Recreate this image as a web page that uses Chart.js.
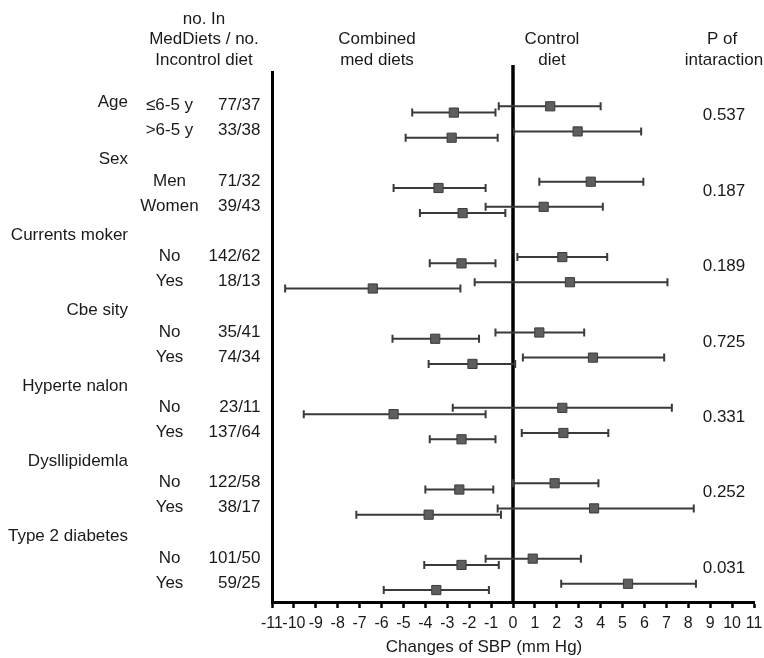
<!DOCTYPE html>
<html>
<head>
<meta charset="utf-8">
<script src="https://cdn.jsdelivr.net/npm/chart.js@4"></script>
<style>
  html, body { margin: 0; padding: 0; background: #fff; }
  #wrap { width: 764px; height: 658px; }
</style>
</head>
<body>
<div id="wrap"><canvas id="myChart" width="764" height="658"></canvas></div>
<script>
// subgroup data (changes of SBP, mm Hg)
const groups = ['Age', 'Sex', 'Currents moker', 'Cbe sity', 'Hyperte nalon', 'Dysllipidemla', 'Type 2 diabetes'];
const subgroups = ['≤6-5 y', '>6-5 y', 'Men', 'Women', 'No', 'Yes', 'No', 'Yes', 'No', 'Yes', 'No', 'Yes', 'No', 'Yes'];
const counts = ['77/37', '33/38', '71/32', '39/43', '142/62', '18/13', '35/41', '74/34', '23/11', '137/64', '122/58', '38/17', '101/50', '59/25'];
const pInteraction = ['0.537', '0.187', '0.189', '0.725', '0.331', '0.252', '0.031'];

const medMean = [-2.7, -2.8, -3.4, -2.3, -2.35, -6.4, -3.55, -1.85, -5.45, -2.35, -2.45, -3.85, -2.35, -3.5];
const medLow  = [-4.6, -4.9, -5.45, -4.25, -3.8, -10.4, -5.5, -3.85, -9.55, -3.8, -4.0, -7.15, -4.05, -5.9];
const medHigh = [-0.8, -0.7, -1.25, -0.35, -0.8, -2.4, -1.55, 0.1, -1.25, -0.8, -0.9, -0.55, -0.65, -1.1];

const ctrlMean = [1.7, 2.95, 3.55, 1.4, 2.25, 2.6, 1.2, 3.65, 2.25, 2.3, 1.9, 3.7, 0.9, 5.25];
const ctrlLow  = [-0.65, 0.05, 1.2, -1.25, 0.2, -1.75, -0.8, 0.45, -2.75, 0.4, 0.0, -0.7, -1.25, 2.2];
const ctrlHigh = [4.0, 5.85, 5.95, 4.1, 4.3, 7.05, 3.25, 6.9, 7.25, 4.35, 3.9, 8.25, 3.1, 8.35];

const xTicks = [-11, -10, -9, -8, -7, -6, -5, -4, -3, -2, -1, 0, 1, 2, 3, 4, 5, 6, 7, 8, 9, 10, 11];
const xTickLabels = ['-11', '-10', '-9', '-8', '-7', '-6', '-5', '-4', '-3', '-2', '-1', '0', '1', '2', '3', '4', '5', '6', '7', '8', '9', '10', '11'];

// every group takes 3 slots: header + 2 subgroups
function rowOf(i) {
  return Math.floor(i / 2) * 3 + (i % 2);
}

const FONT = '"Liberation Sans", Arial, Helvetica, sans-serif';
const TXT = '#1a1a1a';

// whiskers with end caps, drawn under the squares
const errorBars = {
  id: 'errorBars',
  beforeDatasetsDraw(chart) {
    const ctx = chart.ctx;
    const x = chart.scales.x;
    const area = chart.chartArea;

    // zero line, a bit taller than the plot frame
    const x0 = x.getPixelForValue(0);
    ctx.save();
    ctx.strokeStyle = '#000';
    ctx.lineWidth = 3.5;
    ctx.beginPath();
    ctx.moveTo(x0, area.top - 7);
    ctx.lineTo(x0, area.bottom);
    ctx.stroke();
    ctx.restore();

    chart.data.datasets.forEach((ds, d) => {
      const meta = chart.getDatasetMeta(d);
      ctx.save();
      ctx.strokeStyle = '#3a3a3a';
      ctx.lineWidth = 2;
      meta.data.forEach((pt, i) => {
        const a = x.getPixelForValue(ds.lo[i]);
        const b = x.getPixelForValue(ds.hi[i]);
        const y = pt.y;
        ctx.beginPath();
        ctx.moveTo(a, y);
        ctx.lineTo(b, y);
        ctx.moveTo(a, y - 4);
        ctx.lineTo(a, y + 4);
        ctx.moveTo(b, y - 4);
        ctx.lineTo(b, y + 4);
        ctx.stroke();
      });
      ctx.restore();
    });
  }
};

// table text around the plot
const tableText = {
  id: 'tableText',
  afterDraw(chart) {
    const ctx = chart.ctx;
    const y = chart.scales.y;
    ctx.save();
    ctx.fillStyle = TXT;
    ctx.font = '17px ' + FONT;
    ctx.textBaseline = 'middle';

    // column titles
    ctx.textAlign = 'center';
    ctx.fillText('no. In', 204, 19);
    ctx.fillText('MedDiets / no.', 204, 39.5);
    ctx.fillText('Incontrol diet', 204, 60);
    ctx.fillText('Combined', 377, 39.5);
    ctx.fillText('med diets', 377, 60);
    ctx.fillText('Control', 552, 39.5);
    ctx.fillText('diet', 552, 60);
    ctx.fillText('P of', 722, 39.5);
    ctx.fillText('intaraction', 724, 60);

    // group headers (first one sits a little lower, under the titles)
    ctx.textAlign = 'right';
    groups.forEach((g, k) => {
      ctx.fillText(g, 128, y.getPixelForValue(Math.max(k * 3 - 1, -0.3)));
    });

    // subgroup names and counts
    subgroups.forEach((s, i) => {
      const py = y.getPixelForValue(rowOf(i) - 0.15);
      ctx.textAlign = 'center';
      ctx.fillText(s, 169.5, py);
      ctx.textAlign = 'right';
      ctx.fillText(counts[i], 260.5, py);
    });

    // p of interaction
    ctx.textAlign = 'center';
    pInteraction.forEach((p, k) => {
      ctx.fillText(p, 724, y.getPixelForValue(k * 3 + 0.25));
    });

    // axis title
    ctx.fillText('Changes of SBP (mm Hg)', 484, 647);
    ctx.restore();
  }
};

const config = {
  type: 'scatter',
  data: {
    datasets: [
      {
        label: 'Combined med diets',
        data: medMean.map((v, i) => ({ x: v, y: rowOf(i) + 0.125 })),
        lo: medLow,
        hi: medHigh
      },
      {
        label: 'Control diet',
        data: ctrlMean.map((v, i) => ({ x: v, y: rowOf(i) - 0.125 })),
        lo: ctrlLow,
        hi: ctrlHigh
      }
    ]
  },
  options: {
    responsive: false,
    animation: false,
    layout: { padding: { left: 272, right: 10, top: 72, bottom: 12 } },
    elements: {
      point: {
        pointStyle: 'rect',
        radius: 6.5,
        backgroundColor: '#5e5e5e',
        borderColor: '#3c3c3c',
        borderWidth: 1
      }
    },
    plugins: {
      legend: { display: false },
      tooltip: { enabled: false }
    },
    scales: {
      x: {
        type: 'linear',
        min: -11,
        max: 11,
        afterBuildTicks: s => { s.ticks = xTicks.map(v => ({ value: v })); },
        // fixed height, and no extra room for the end labels
        afterFit: s => { s.height = 44; s.paddingLeft = 0; s.paddingRight = 0; },
        ticks: {
          autoSkip: false,
          maxRotation: 0,
          padding: 6,
          color: TXT,
          font: { family: FONT, size: 16 },
          callback: (v, i) => xTickLabels[i]
        },
        grid: {
          drawOnChartArea: false,
          drawTicks: true,
          tickLength: 6,
          tickWidth: 2.5,
          tickColor: '#000'
        },
        border: { display: true, color: '#000', width: 3 }
      },
      y: {
        type: 'linear',
        reverse: true,
        min: -1.49,
        max: 19.6,
        afterFit: s => { s.width = 0; },
        ticks: { display: false },
        grid: { display: false },
        border: { display: true, color: '#000', width: 3 }
      }
    }
  },
  plugins: [errorBars, tableText]
};

const myChart = new Chart(document.getElementById('myChart'), config);
</script>
</body>
</html>
